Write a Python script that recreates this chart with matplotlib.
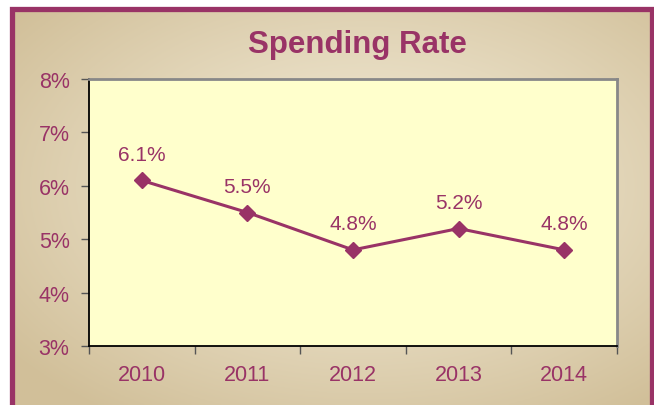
import numpy as np
import matplotlib

matplotlib.use("Agg")
import matplotlib.pyplot as plt

years = ["2010", "2011", "2012", "2013", "2014"]
rates = [6.1, 5.5, 4.8, 5.2, 4.8]
labels = ["6.1%", "5.5%", "4.8%", "5.2%", "4.8%"]
yticks = [3, 4, 5, 6, 7, 8]

PURPLE = "#993366"
W, H = 654, 406

plt.rcParams["font.family"] = ["Liberation Sans", "DejaVu Sans"]

fig = plt.figure(figsize=(W / 100, H / 100), dpi=100)
fig.patch.set_facecolor("white")

# beige gradient background inside the purple frame
bg = fig.add_axes([0, 0, 1, 1])
bg.set_xlim(0, W)
bg.set_ylim(H, 0)
bg.axis("off")
gx, gy = np.meshgrid(np.linspace(0, 1, 300), np.linspace(0, 1, 200))
d = np.sqrt(((gx - 0.55) / 0.7) ** 2 + ((gy - 0.45) / 0.7) ** 2)
d = np.clip(d, 0, 1)
light = np.array([0.95, 0.92, 0.84])
dark = np.array([0.82, 0.75, 0.60])
img = light + (dark - light) * d[..., None] ** 1.2
bg.imshow(img, extent=(12, W, H, 10), aspect="auto", zorder=0)
bg.plot([11.5, 11.5, W - 2.5, W - 2.5], [H + 5, 9.5, 9.5, H + 5],
        color=PURPLE, lw=3.8, solid_joinstyle="miter", zorder=2)

fig.text(357 / W, 1 - 45 / H, "Spending Rate", color=PURPLE, fontsize=22.5,
         fontweight="bold", ha="center", va="center")

# plot area
ax = fig.add_axes([89 / W, 1 - 347 / H, (617 - 89) / W, (347 - 80) / H])
ax.set_facecolor("#FFFFCC")
x = np.arange(len(years))
ax.plot(x, rates, color=PURPLE, lw=2.2, marker="D", markersize=8, zorder=3)
for xi, yi, lab in zip(x, rates, labels):
    ax.annotate(lab, (xi, yi), xytext=(0, 19), textcoords="offset points",
                ha="center", va="center", color=PURPLE, fontsize=15)

ax.set_xlim(-0.5, len(years) - 0.5)
ax.set_ylim(3, 8)
ax.set_yticks(yticks)
ax.set_yticklabels([f"{v}%" for v in yticks])
ax.set_xticks(x)
ax.set_xticklabels(years)
ax.set_xticks(np.arange(-0.5, len(years)), minor=True)
ax.tick_params(axis="x", which="major", length=0, pad=13, labelsize=15.5,
               labelcolor=PURPLE)
ax.tick_params(axis="x", which="minor", length=6, width=1, color="#555555",
               direction="out")
ax.tick_params(axis="y", length=6, width=1, color="#555555", direction="out",
               pad=8, labelsize=15.5, labelcolor=PURPLE)
ax.spines["left"].set_color("black")
ax.spines["bottom"].set_color("black")
ax.spines["left"].set_linewidth(1.3)
ax.spines["bottom"].set_linewidth(1.3)
for s in ("top", "right"):
    ax.spines[s].set_color("#888888")
    ax.spines[s].set_linewidth(2)

fig.savefig("out.png", dpi=100)
